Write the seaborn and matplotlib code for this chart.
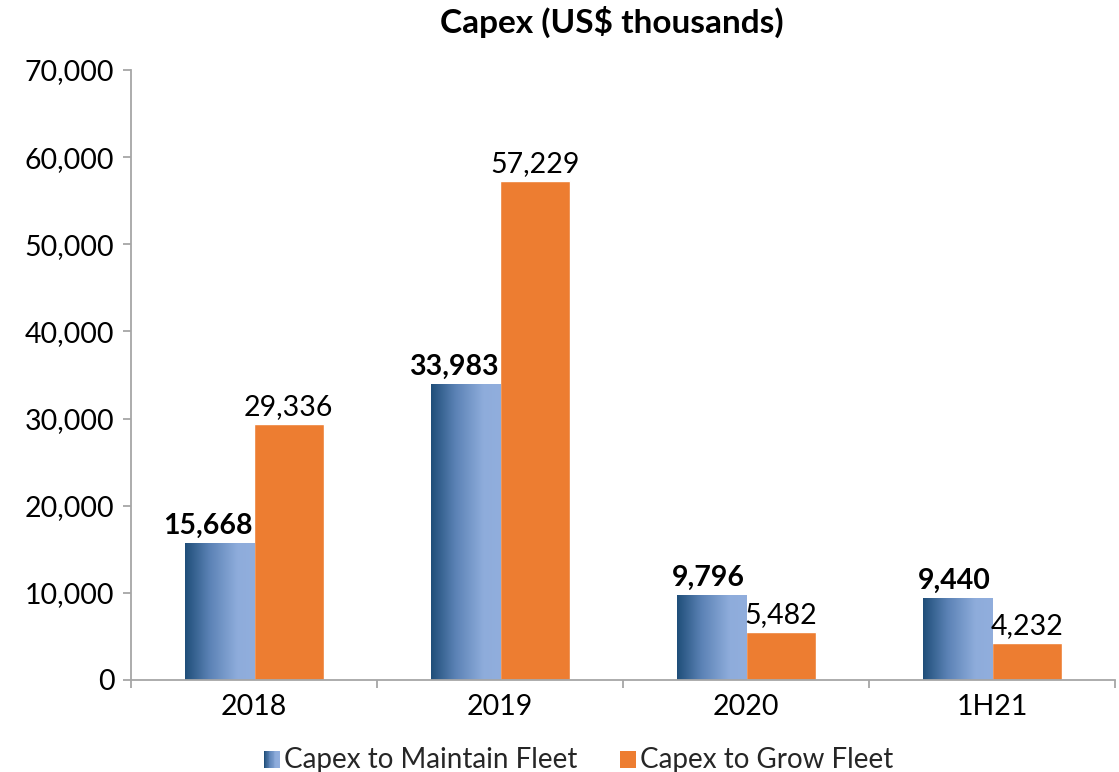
import numpy as np
import pandas as pd
import matplotlib
matplotlib.use("Agg")
import matplotlib.pyplot as plt
import seaborn as sns
from matplotlib.patches import Rectangle
from matplotlib.colors import LinearSegmentedColormap
from matplotlib.legend_handler import HandlerBase
from matplotlib.ticker import FuncFormatter, MultipleLocator

# Chart data
periods = ["2018", "2019", "2020", "1H21"]
maintain_fleet = [15668, 33983, 9796, 9440]
grow_fleet = [29336, 57229, 5482, 4232]
series_names = ["Capex to Maintain Fleet", "Capex to Grow Fleet"]
title_text = "Capex (US$ thousands)"

sns.set_theme(style="white")
plt.rcParams["font.family"] = ["Lato", "DejaVu Sans"]

FS = 20.5
ORANGE = "#ED7D31"
AXIS_GREY = "#A6A6A6"
blue_grad = LinearSegmentedColormap.from_list(
    "bluegrad", [(0.0, "#1F4E79"), (0.35, "#5B82B5"), (0.75, "#8EACDB"), (1.0, "#91AEDD")]
)

df = pd.DataFrame({
    "period": periods * 2,
    "series": [series_names[0]] * len(periods) + [series_names[1]] * len(periods),
    "value": maintain_fleet + grow_fleet,
})

fig = plt.figure(figsize=(11.19, 7.72), dpi=100)
ax = fig.add_axes([0.1171, 0.1192, 0.8794, 0.7901])

sns.barplot(data=df, x="period", y="value", hue="series", order=periods,
            hue_order=series_names, palette=["#6F93C6", ORANGE],
            width=0.565, saturation=1, ax=ax, legend=False, errorbar=None)

ax.yaxis.set_major_locator(MultipleLocator(10000))
ax.yaxis.set_major_formatter(FuncFormatter(lambda v, p: f"{int(v):,}"))

# Horizontal gradient fill on the maintenance bars
grad = np.linspace(0, 1, 256).reshape(1, -1)
maint_patches = ax.containers[0].patches
for p in maint_patches:
    x0, y0 = p.get_x(), p.get_y()
    w, h = p.get_width(), p.get_height()
    img = ax.imshow(grad, cmap=blue_grad, aspect="auto",
                    extent=[x0, x0 + w, y0, y0 + h], zorder=p.get_zorder() + 0.1)
    img.set_clip_path(p)
ax.set_xlim(-0.5, len(periods) - 0.5)
ax.set_ylim(0, 70000)

# Value labels; a label wider than its bar is pulled left so it clears the neighbour
fig.canvas.draw()
renderer = fig.canvas.get_renderer()
for p, v in zip(maint_patches, maintain_fleet):
    cx = p.get_x() + p.get_width() / 2
    t = ax.annotate(f"{v:,}", (cx, v), xytext=(0, 3), textcoords="offset points",
                    ha="center", va="bottom", fontsize=FS, fontweight="bold",
                    color="black", zorder=5)
    bb = t.get_window_extent(renderer)
    right_px = ax.transData.transform((p.get_x() + p.get_width(), 0))[0]
    if bb.x1 > right_px:
        t.xyann = (-(bb.x1 - right_px + 1) * 72 / fig.dpi, 3)
for p, v in zip(ax.containers[1].patches, grow_fleet):
    cx = p.get_x() + p.get_width() / 2
    ax.annotate(f"{v:,}", (cx, v), xytext=(0, 3), textcoords="offset points",
                ha="center", va="bottom", fontsize=FS, color="black", zorder=5)

# Axes styling
sns.despine(ax=ax, top=True, right=True)
for s in ("left", "bottom"):
    ax.spines[s].set_color(AXIS_GREY)
    ax.spines[s].set_linewidth(1.3)
ax.set_xlabel("")
ax.set_ylabel("")
ax.set_xticks(range(len(periods)))
ax.set_xticklabels(periods)
ax.set_xticks(np.arange(-0.5, len(periods)), minor=True)
ax.tick_params(axis="x", which="major", length=0, labelsize=FS, pad=10, colors="black")
ax.tick_params(axis="x", which="minor", length=6, width=1.3, color=AXIS_GREY, bottom=True)
ax.tick_params(axis="y", which="major", length=6, width=1.3, color=AXIS_GREY,
               labelsize=FS, pad=6, left=True, labelcolor="black")

fig.text(0.5465, 0.971, title_text, ha="center", va="center",
         fontsize=24, fontweight="bold", color="black")


class GradientHandler(HandlerBase):
    def create_artists(self, legend, orig_handle, xdescent, ydescent,
                       width, height, fontsize, trans):
        side = height * 0.85
        x0 = -xdescent + width - side
        y0 = -ydescent
        n = 20
        arts = []
        for i in range(n):
            r = Rectangle((x0 + side * i / n, y0), side / n + 0.05, side,
                          facecolor=blue_grad(i / (n - 1)), edgecolor="none",
                          transform=trans)
            arts.append(r)
        return arts


class SquareHandler(HandlerBase):
    def create_artists(self, legend, orig_handle, xdescent, ydescent,
                       width, height, fontsize, trans):
        side = height * 0.85
        x0 = -xdescent + width - side
        y0 = -ydescent
        return [Rectangle((x0, y0), side, side, facecolor=ORANGE,
                          edgecolor="none", transform=trans)]


h_maint = Rectangle((0, 0), 1, 1)
h_grow = Rectangle((0, 0), 1, 1, facecolor=ORANGE)
fig.legend([h_maint, h_grow], series_names, loc="center",
           bbox_to_anchor=(0.517, 0.016), ncol=2, frameon=False, fontsize=20,
           handler_map={h_maint: GradientHandler(), h_grow: SquareHandler()},
           handlelength=0.6, handleheight=0.7, handletextpad=0.15, columnspacing=1.5,
           borderpad=0.0)

fig.savefig("out.png", dpi=100)
